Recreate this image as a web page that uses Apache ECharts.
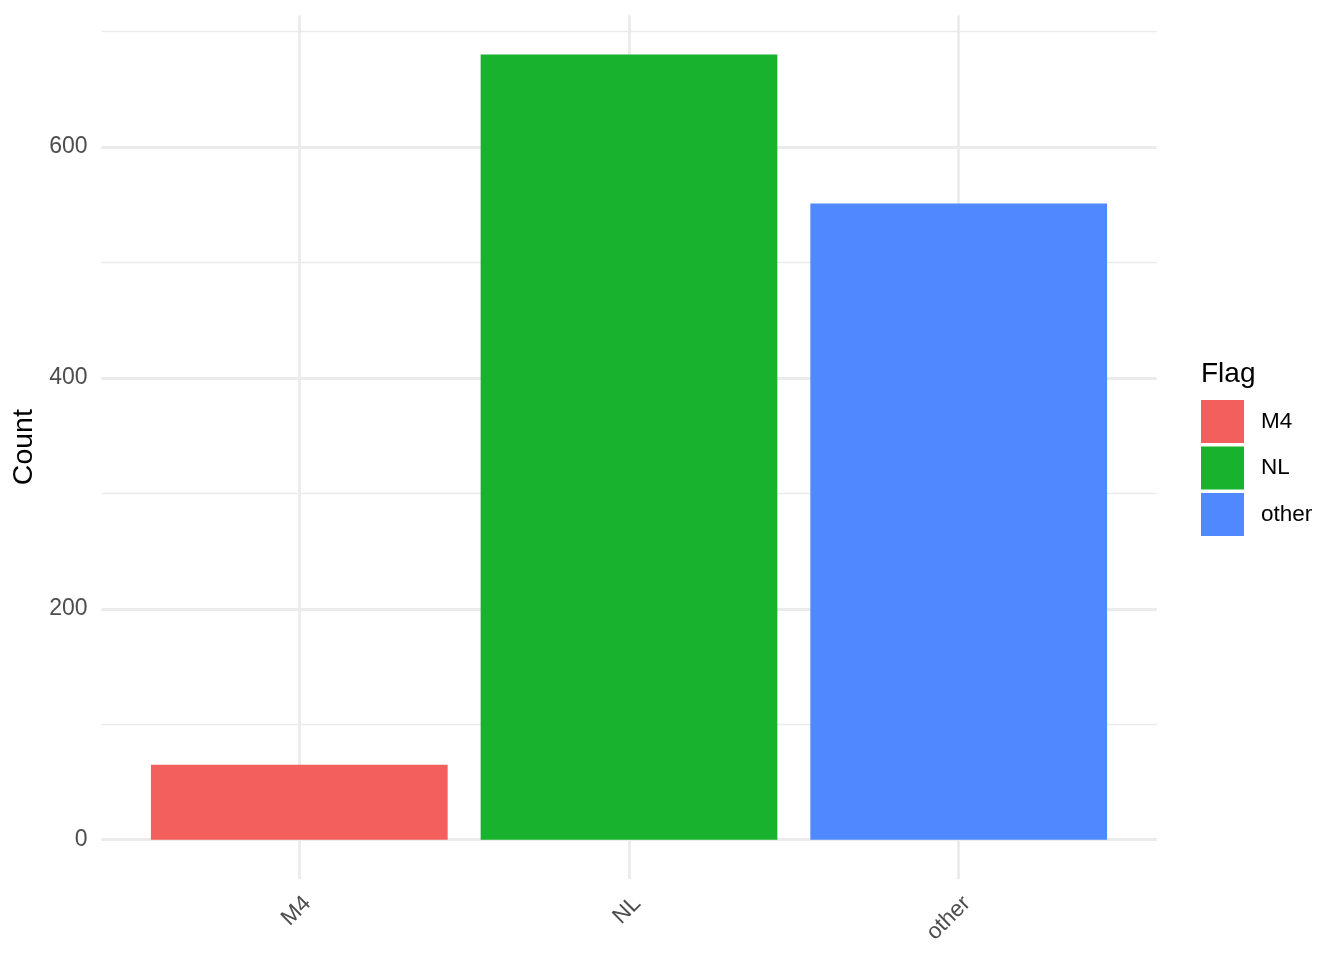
<!DOCTYPE html>
<html>
<head>
<meta charset="utf-8">
<script src="https://cdn.jsdelivr.net/npm/echarts@6/dist/echarts.min.js"></script>
<style>html,body{margin:0;padding:0;background:#fff}#c{width:1344px;height:960px}</style>
</head>
<body>
<div id="c"></div>
<script>
const categories = ['M4', 'NL', 'other'];
const counts = [65, 680, 551];
const colors = ['#F25F5C', '#19B22E', '#5088FF'];
const yMajor = [0, 200, 400, 600];
const yMinor = [100, 300, 500, 700];
const yMin = -34, yMax = 714;

const FONT = '"Liberation Sans", Arial, Helvetica, sans-serif';
const chart = echarts.init(document.getElementById('c'), null, {renderer: 'canvas'});

const gridLines = [];
yMajor.forEach(v => gridLines.push({yAxis: v, lineStyle: {width: 2.8, color: '#EBEBEB', type: 'solid'}}));
yMinor.forEach(v => gridLines.push({yAxis: v, lineStyle: {width: 1.4, color: '#EBEBEB', type: 'solid'}}));

const barSeries = categories.map((c, i) => ({
  name: c,
  type: 'bar',
  xAxisIndex: 1,
  yAxisIndex: 1,
  stack: 'total',
  barWidth: '90%',
  clip: false,
  z: 5,
  itemStyle: {color: colors[i]},
  data: categories.map((_, j) => (j === i ? counts[i] : null))
}));

chart.setOption({
  animation: false,
  backgroundColor: '#ffffff',
  title: {
    text: 'Flag', left: 1201, top: 360, padding: 0,
    textStyle: {fontFamily: FONT, fontSize: 28, fontWeight: 'normal', color: '#000'}
  },
  legend: {
    orient: 'vertical', left: 1201, top: 400, padding: 0,
    itemWidth: 43, itemHeight: 43, itemGap: 3.5, icon: 'rect',
    data: categories,
    textStyle: {fontFamily: FONT, fontSize: 22.5, color: '#000', padding: [3, 0, 0, 12]}
  },
  grid: [
    {left: 101.5, right: 187.3, top: 15.3, bottom: 81, containLabel: false},
    {left: 299.3, right: 385.3, top: 15.3, bottom: 81, containLabel: false}
  ],
  xAxis: [
    {type: 'value', gridIndex: 0, min: 0, max: 1, show: false},
    {
      type: 'category', gridIndex: 1, data: categories, boundaryGap: false,
      axisLine: {show: false}, axisTick: {show: false},
      splitLine: {show: true, lineStyle: {color: '#EBEBEB', width: 2.8}},
      axisLabel: {
        interval: 0, rotate: 45, align: 'right', verticalAlign: 'top', margin: 13,
        fontFamily: FONT, fontSize: 22.5, color: '#4D4D4D'
      }
    }
  ],
  yAxis: [
    {
      type: 'value', gridIndex: 0, min: yMin, max: yMax,
      name: 'Count', nameLocation: 'middle', nameGap: 59,
      nameTextStyle: {fontFamily: FONT, fontSize: 28.5, color: '#000'},
      axisLine: {show: false}, axisTick: {show: false}, splitLine: {show: false},
      axisLabel: {
        customValues: yMajor, margin: 14, padding: [3, 0, 0, 0],
        fontFamily: FONT, fontSize: 23, color: '#4D4D4D'
      }
    },
    {type: 'value', gridIndex: 1, min: yMin, max: yMax, show: false, splitLine: {show: false}}
  ],
  series: [
    {
      type: 'line', xAxisIndex: 0, yAxisIndex: 0, data: [], silent: true, z: 1,
      markLine: {silent: true, symbol: 'none', label: {show: false}, animation: false, data: gridLines}
    }
  ].concat(barSeries)
});
</script>
</body>
</html>
